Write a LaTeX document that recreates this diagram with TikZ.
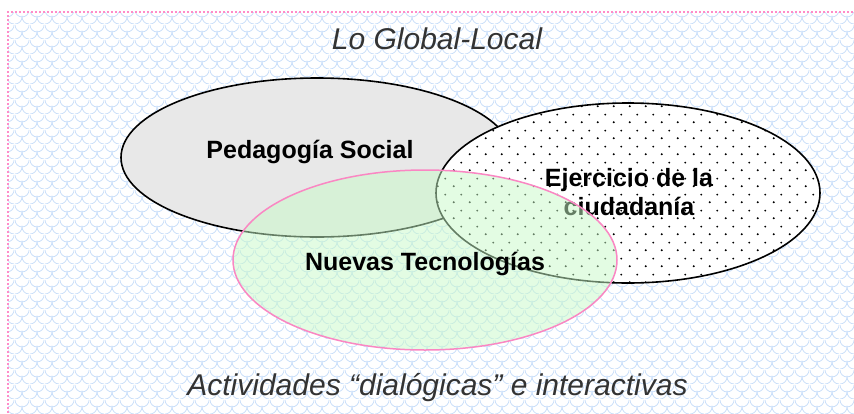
\documentclass[tikz,border=0pt]{standalone}
\usepackage{fontspec}
\setmainfont{Liberation Sans}
\usetikzlibrary{shapes.geometric,patterns}

\pgfdeclarepatternformonly{bgscales}{\pgfpointorigin}{\pgfpoint{15pt}{15pt}}{\pgfpoint{15pt}{15pt}}{%
  \pgfsetlinewidth{0.8pt}%
  \pgfpathmoveto{\pgfpoint{0pt}{15pt}}%
  \pgfpatharc{180}{360}{7.5pt}%
  \pgfpathmoveto{\pgfpoint{0pt}{0pt}}%
  \pgfpatharc{270}{360}{7.5pt}%
  \pgfpatharc{180}{270}{7.5pt}%
  \pgfusepath{stroke}%
}
\pgfdeclarepatternformonly{stagdots}{\pgfpointorigin}{\pgfpoint{15.5pt}{16pt}}{\pgfpoint{15.5pt}{16pt}}{%
  \pgfpathcircle{\pgfpoint{3.875pt}{4pt}}{1.1pt}%
  \pgfpathcircle{\pgfpoint{11.625pt}{12pt}}{1.1pt}%
  \pgfusepath{fill}%
}

\definecolor{bgblue}{RGB}{200,222,250}
\definecolor{framepink}{RGB}{255,140,200}
\definecolor{edgepink}{RGB}{250,135,195}
\definecolor{softgray}{RGB}{232,232,232}
\definecolor{mint}{RGB}{200,250,200}
\definecolor{captiongray}{RGB}{51,51,51}

\tikzset{
  setbox/.style={ellipse, inner sep=0pt, outer sep=0pt},
  blackedge/.style={draw=black, line width=1.6pt},
  labeltext/.style={font=\fontsize{25}{28.5}\selectfont\bfseries, text=black, align=center, inner sep=0pt},
  captiontext/.style={font=\fontsize{30}{34}\selectfont\itshape, text=captiongray, inner sep=0pt},
}

\begin{document}
\begin{tikzpicture}[x=1pt,y=-1pt]
  \useasboundingbox (0,0) rectangle (854,413);
  \fill[white] (0,0) rectangle (854,413);
  % patterned background with dotted pink frame
  \fill[pattern=bgscales, pattern color=bgblue] (8,12) rectangle (854,413);
  \draw[framepink, line width=1.6pt, dash pattern=on 1.6pt off 2.4pt] (8,413) -- (8,12) -- (854,12);

  % Pedagogia Social
  \node[setbox, blackedge, fill=softgray, minimum width=392pt, minimum height=159pt] (ped) at (317,157.5) {};
  \node[labeltext, anchor=base] (pedtxt) at (310,158) {Pedagogía Social};

  % Ejercicio de la ciudadania
  \node[setbox, blackedge, preaction={fill=white}, pattern=stagdots, pattern color=black,
        minimum width=384pt, minimum height=180pt] (eje) at (628,193) {};
  \node[labeltext, anchor=base] (ejetxtA) at (629,186.5) {Ejercicio de la};
  \node[labeltext, anchor=base] (ejetxtB) at (629,215) {ciudadanía};

  % Nuevas Tecnologias
  \node[setbox, fill=mint, fill opacity=0.5, draw=edgepink, line width=1.5pt,
        minimum width=384pt, minimum height=180pt] (nue) at (425,260) {};
  \node[labeltext, anchor=base] (nuetxt) at (425,270.5) {Nuevas Tecnologías};

  % captions
  \node[captiontext, anchor=base] (top) at (437,49) {Lo Global-Local};
  \node[captiontext, anchor=base] (bottom) at (437.5,395) {Actividades “dialógicas” e interactivas};
\end{tikzpicture}
\end{document}
